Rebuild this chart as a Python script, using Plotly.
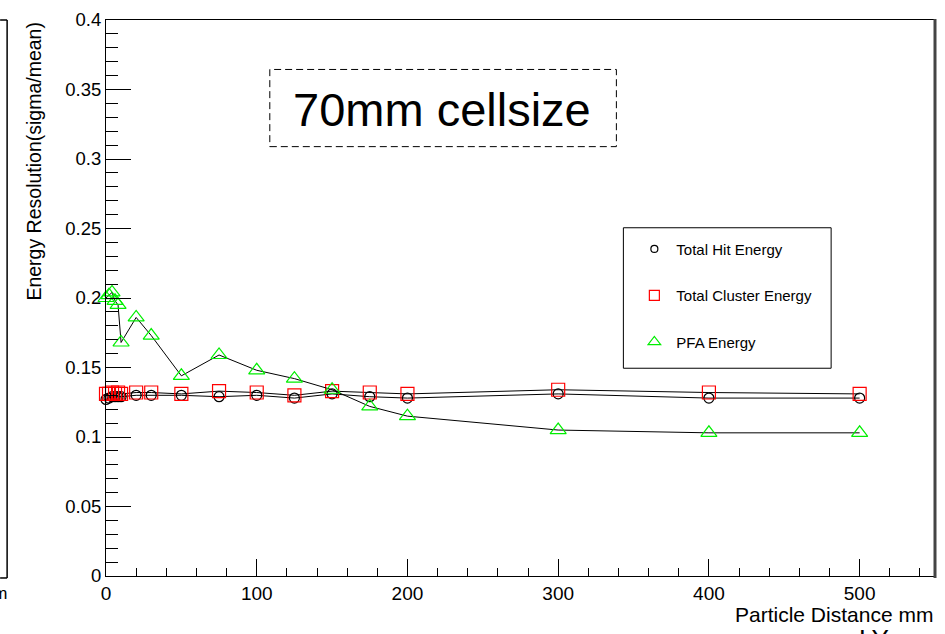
import plotly.graph_objects as go

# ---- data ----
distance = [0, 2, 4, 6, 8, 10, 20, 30, 50, 75, 100, 125, 150, 175, 200, 300, 400, 500]
hit_energy = [0.127, 0.128, 0.129, 0.129, 0.129, 0.129, 0.130, 0.130, 0.130, 0.129, 0.130, 0.128,
              0.131, 0.129, 0.128, 0.131, 0.128, 0.128]
cluster_energy = [0.131, 0.131, 0.132, 0.131, 0.132, 0.131, 0.132, 0.132, 0.131, 0.133, 0.132, 0.130,
                  0.133, 0.132, 0.131, 0.134, 0.132, 0.131]
pfa_energy = [0.200, 0.202, 0.204, 0.198, 0.195, 0.168, 0.186, 0.173, 0.144, 0.159, 0.148, 0.142,
              0.134, 0.122, 0.115, 0.105, 0.103, 0.103]

series_names = ["Total Hit Energy", "Total Cluster Energy", "PFA Energy"]
x_ticks = [0, 100, 200, 300, 400, 500]
y_ticks = [0, 0.05, 0.1, 0.15, 0.2, 0.25, 0.3, 0.35, 0.4]
y_tick_text = ["0", "0.05", "0.1", "0.15", "0.2", "0.25", "0.3", "0.35", "0.4"]

FONT = "Liberation Sans, Arial, Helvetica, sans-serif"
W, H = 945, 634
L, R, T, B = 106, 9, 14, 58
PW, PH = W - L - R, H - T - B


def px(xp):
    return (xp - L) / PW


def py(yp):
    return (H - B - yp) / PH


fig = go.Figure()

styles = [
    dict(symbol="circle-open", color="black", size=10),
    dict(symbol="square-open", color="red", size=13),
    dict(symbol="triangle-up-open", color="#00ee00", size=14),
]
series = [hit_energy, cluster_energy, pfa_energy]

for name, ys, st in zip(series_names, series, styles):
    fig.add_trace(go.Scatter(
        x=distance, y=ys, mode="lines+markers", name=name, showlegend=False,
        line=dict(color="black", width=1),
        marker=dict(symbol=st["symbol"], color=st["color"], size=st["size"],
                    line=dict(color=st["color"], width=1.2)),
        cliponaxis=False,
    ))

# legend-only entries (markers only, as in the original)
for i, (name, st) in enumerate(zip(series_names, styles)):
    fig.add_trace(go.Scatter(
        x=[None], y=[None], mode="markers", name=name, legendgroup=f"g{i}",
        marker=dict(symbol=st["symbol"], color=st["color"], size=st["size"] - 3,
                    line=dict(color=st["color"], width=1.2)),
    ))

fig.update_layout(
    width=W, height=H,
    margin=dict(l=L, r=R, t=T, b=B, pad=0),
    paper_bgcolor="white", plot_bgcolor="white",
    font=dict(family=FONT, color="black", size=17),
    showlegend=True,
    legend=dict(
        x=px(633), y=py(229), xanchor="left", yanchor="top",
        bgcolor="rgba(0,0,0,0)", borderwidth=0,
        font=dict(family=FONT, size=15, color="black"),
        traceorder="grouped", tracegroupgap=24, itemwidth=34,
    ),
    xaxis=dict(
        range=[0, 550], showgrid=False, zeroline=False,
        showline=True, linecolor="black", linewidth=1, mirror=True,
        ticks="inside", ticklen=17, tickcolor="black", tickwidth=1,
        tickvals=x_ticks, ticktext=[str(v) for v in x_ticks],
        tickfont=dict(family=FONT, size=19),
        minor=dict(dtick=20, ticks="inside", ticklen=8, tickcolor="black", tickwidth=1),
    ),
    yaxis=dict(
        range=[0, 0.4], showgrid=False, zeroline=False,
        showline=True, linecolor="black", linewidth=1, mirror=True,
        ticks="inside", ticklen=25, tickcolor="black", tickwidth=1,
        tickvals=y_ticks, ticktext=y_tick_text,
        tickfont=dict(family=FONT, size=18.5),
        minor=dict(dtick=0.01, ticks="inside", ticklen=12, tickcolor="black", tickwidth=1),
    ),
)

shapes = [
    # legend box
    dict(type="rect", xref="paper", yref="paper", x0=px(624), x1=px(832), y0=py(366), y1=py(224),
         line=dict(color="black", width=1), fillcolor="rgba(0,0,0,0)"),
    # title box (dashed)
    dict(type="rect", xref="paper", yref="paper", x0=px(270), x1=px(617), y0=py(142), y1=py(64),
         line=dict(color="black", width=1, dash="7px,4px"), fillcolor="white"),
    # thicker right frame edge
    dict(type="line", xref="paper", yref="paper", x0=px(936), x1=px(936), y0=py(578), y1=py(13),
         line=dict(color="#444444", width=3)),
    # remains of the neighbouring panel on the left
    dict(type="line", xref="paper", yref="paper", x0=px(7), x1=px(7), y0=py(578), y1=py(14),
         line=dict(color="black", width=1.5)),
    dict(type="line", xref="paper", yref="paper", x0=px(0), x1=px(7), y0=py(14), y1=py(14),
         line=dict(color="black", width=1.5)),
    dict(type="line", xref="paper", yref="paper", x0=px(0), x1=px(7), y0=py(578), y1=py(578),
         line=dict(color="black", width=1.5)),
]
fig.update_layout(shapes=shapes)

annotations = [
    dict(text="70mm cellsize", xref="paper", yref="paper", x=px(442), y=py(104),
         xanchor="center", yanchor="middle", showarrow=False,
         font=dict(family=FONT, size=47, color="black")),
    dict(text="Energy Resolution(sigma/mean)", xref="paper", yref="paper", x=px(33), y=py(14),
         xanchor="center", yanchor="top", textangle=-90, showarrow=False,
         font=dict(family=FONT, size=19.5, color="black")),
    dict(text="Particle Distance mm", xref="paper", yref="paper", x=px(936), y=py(601),
         xanchor="right", yanchor="top", showarrow=False,
         font=dict(family=FONT, size=21, color="black")),
    dict(text="mm", xref="paper", yref="paper", x=px(9), y=py(582),
         xanchor="right", yanchor="top", showarrow=False,
         font=dict(family=FONT, size=17, color="black")),
    dict(text="LY", xref="paper", yref="paper", x=px(875), y=py(623),
         xanchor="center", yanchor="top", showarrow=False,
         font=dict(family=FONT, size=26, color="black")),
]
fig.update_layout(annotations=annotations)

fig.write_html("out.html")
